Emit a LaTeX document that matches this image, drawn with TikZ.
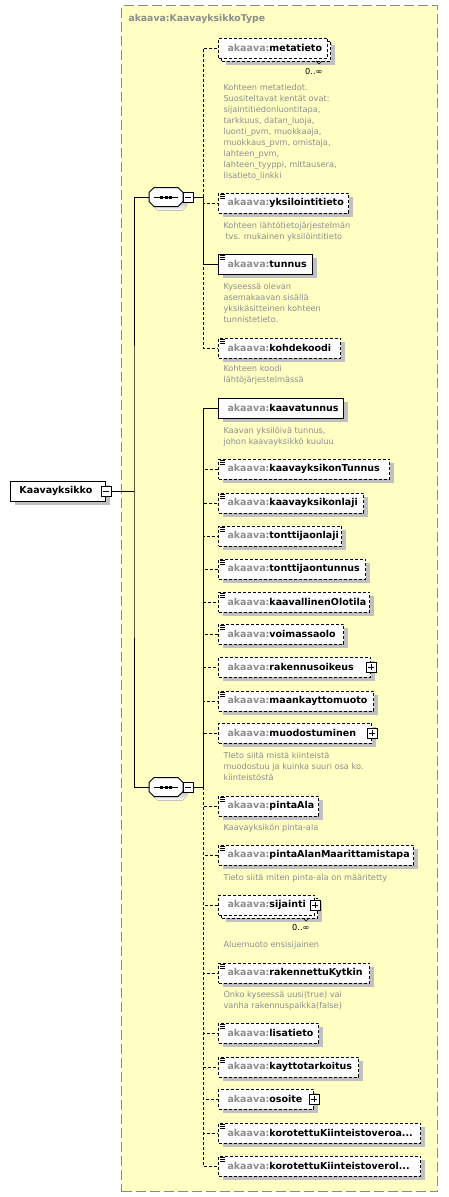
\documentclass[tikz,border=0pt]{standalone}
\usepackage{fontspec}
\setmainfont{DejaVu Sans}
\usetikzlibrary{shadows}
\definecolor{typefill}{HTML}{FFFFC4}
\definecolor{typeline}{HTML}{8A8A8A}
\definecolor{nsgray}{HTML}{8C8C8C}
\definecolor{docgray}{HTML}{8E8E8E}
\definecolor{shade}{HTML}{C0C0C0}
\newcommand{\akv}[1]{{\color{nsgray}akaava:}#1}
\begin{document}
\begin{tikzpicture}[x=1pt, y=-1pt, line width=1pt,
        typebox/.style={draw=typeline, fill=typefill, dash pattern=on 10pt off 4pt, anchor=north west,
            minimum width=316pt, minimum height=1186pt},
        elem/.style={draw, fill=white, anchor=west, minimum height=20pt, inner xsep=9pt, inner ysep=0pt, align=left,
            font=\fontsize{9.5}{11}\selectfont\bfseries,
            drop shadow={shadow xshift=4pt, shadow yshift=-4pt, fill=shade, opacity=1}},
        opt/.style={dash pattern=on 3pt off 2pt},
        multi/.style={drop shadow={shadow xshift=7pt, shadow yshift=-7pt, fill=shade, opacity=1},
            copy shadow={shadow xshift=3pt, shadow yshift=-3pt, draw, fill=white, dash pattern=on 3pt off 2pt}},
        doc/.style={anchor=north west, inner sep=0pt, align=left, text=docgray, font=\fontsize{8.2}{11}\selectfont},
        occ/.style={anchor=east, inner sep=0pt, font=\fontsize{8.2}{10}\selectfont},
        seq/.style={minimum width=34pt, minimum height=19pt, inner sep=0pt},
        plusbox/.style={draw, fill=white, minimum size=10pt, inner sep=0pt, path picture={
            \draw[line width=0.8pt] ([xshift=2pt]path picture bounding box.west) -- ([xshift=-2pt]path picture bounding box.east);
            \draw[line width=0.8pt] ([yshift=-2pt]path picture bounding box.north) -- ([yshift=2pt]path picture bounding box.south);}},
        minusbox/.style={draw, fill=white, minimum size=10pt, inner sep=0pt, path picture={
            \draw[line width=0.8pt] ([xshift=2pt]path picture bounding box.west) -- ([xshift=-2pt]path picture bounding box.east);}},
    ]
    \useasboundingbox (0,0) rectangle (448,1197);
    \node[typebox] (ktype) at (121,5) {};
    \node[anchor=west, inner sep=0pt, text=nsgray, font=\fontsize{9.3}{11}\selectfont\bfseries] (ktitle) at (128,19) {akaava:KaavayksikkoType};

    \node[elem, text width=77pt] (root) at (10,491) {Kaavayksikko};

    % sequence compositors
    \node[seq] (seqA) at (166,197) {};
    \node[seq] (seqB) at (166,787) {};
    \foreach \s in {seqA,seqB}{
        \fill[shade] ([shift={(4,4)}]\s.center) +(-12,-9.5) -- +(12,-9.5) -- +(17,-4.5) -- +(17,4.5) -- +(12,9.5) -- +(-12,9.5) -- +(-17,4.5) -- +(-17,-4.5) -- cycle;
        \filldraw[fill=white] (\s.center) +(-12,-9.5) -- +(12,-9.5) -- +(17,-4.5) -- +(17,4.5) -- +(12,9.5) -- +(-12,9.5) -- +(-17,4.5) -- +(-17,-4.5) -- cycle;
        \draw (\s.center) +(-12,0) -- +(12,0);
        \foreach \d in {-4.5,0,4.5}
            \fill ([xshift=\d pt]\s.center) +(-1.5,-1.5) rectangle +(1.5,1.5);
    }
    \node[minusbox] (seqAm) at (188,197) {};
    \node[minusbox] (seqBm) at (188,787) {};
    \node[minusbox] (rootm) at (root.east) {};

    % first sequence
    \node[elem, opt, multi, text width=91pt] (meta) at (218,48) {\akv{metatieto}};
    \node[elem, opt, text width=112pt] (yksilo) at (218,203) {\akv{yksilointitieto}};
    \node[elem, text width=76pt] (tunnus) at (218,264) {\akv{tunnus}};
    \node[elem, opt, text width=104pt] (kohde) at (218,348) {\akv{kohdekoodi}};

    % second sequence
    \node[elem, text width=107pt] (ktunnus) at (218,408) {\akv{kaavatunnus}};
    \node[elem, opt, text width=153pt] (kytunnus) at (218,469) {\akv{kaavayksikonTunnus}};
    \node[elem, opt, text width=127pt] (kylaji) at (218,503) {\akv{kaavayksikonlaji}};
    \node[elem, opt, text width=105pt] (tjlaji) at (218,536) {\akv{tonttijaonlaji}};
    \node[elem, opt, text width=129pt] (tjtunnus) at (218,569) {\akv{tonttijaontunnus}};
    \node[elem, opt, text width=133pt] (olotila) at (218,602) {\akv{kaavallinenOlotila}};
    \node[elem, opt, text width=107pt] (voimassa) at (218,634) {\akv{voimassaolo}};
    \node[elem, opt, text width=134pt] (rakoik) at (218,667) {\akv{rakennusoikeus}};
    \node[elem, opt, text width=137pt] (maank) at (218,701) {\akv{maankayttomuoto}};
    \node[elem, opt, text width=135pt] (muodos) at (218,733) {\akv{muodostuminen}};
    \node[elem, opt, text width=82pt] (pala) at (218,806) {\akv{pintaAla}};
    \node[elem, opt, text width=177pt] (pamaar) at (218,855) {\akv{pintaAlanMaarittamistapa}};
    \node[elem, opt, multi, text width=78pt] (sijainti) at (218,905) {\akv{sijainti}};
    \node[elem, opt, text width=133pt] (rakkyt) at (218,973) {\akv{rakennettuKytkin}};
    \node[elem, opt, text width=82pt] (lisa) at (218,1033) {\akv{lisatieto}};
    \node[elem, opt, text width=122pt] (kaytto) at (218,1067) {\akv{kayttotarkoitus}};
    \node[elem, opt, text width=77pt] (osoite) at (218,1099) {\akv{osoite}};
    \node[elem, opt, text width=184pt] (korA) at (218,1133) {\akv{korotettuKiinteistoveroa...}};
    \node[elem, opt, text width=184pt] (korB) at (218,1166) {\akv{korotettuKiinteistoverol...}};

    \foreach \n in {yksilo,tunnus,kohde,kytunnus,kylaji,tjlaji,tjtunnus,olotila,voimassa,maank,pala,pamaar,rakkyt,lisa,kaytto,korA,korB}
        \foreach \k in {1.5,3.5,5.5}
            \draw[line width=0.8pt] ([shift={(2,\k)}]\n.north west) -- +(5,0);
    \foreach \n in {rakoik,muodos,sijainti,osoite}
        \node[plusbox] (\n-plus) at (\n.east) {};

    \node[occ] (metaocc) at ([shift={(-5,24)}]meta.east) {0..∞};
    \node[occ] (sijocc) at ([shift={(-5,23)}]sijainti.east) {0..∞};
    \draw[line width=0.6pt] ([shift={(-12,13)}]meta.east) -- ++(3,3) -- ++(3,-3);
    \draw[line width=0.6pt] ([shift={(-12,13)}]sijainti.east) -- ++(3,3) -- ++(3,-3);

    \node[doc] (metadoc) at (223,83.5) {Kohteen metatiedot.\\Suositeltavat kentät ovat:\\sijaintitiedonluontitapa,\\tarkkuus, datan\_luoja,\\luonti\_pvm, muokkaaja,\\muokkaus\_pvm, omistaja,\\lahteen\_pvm,\\lahteen\_tyyppi, mittausera,\\lisatieto\_linkki};
    \node[doc] (yksdoc) at (223,221.5) {Kohteen lähtötietojärjestelmän\\\hspace*{2pt}tvs. mukainen yksilöintitieto};
    \node[doc] (tunndoc) at (223,282.5) {Kyseessä olevan\\asemakaavan sisällä\\yksikäsitteinen kohteen\\tunnistetieto.};
    \node[doc] (kohdoc) at (223,364.5) {Kohteen koodi\\lähtöjärjestelmässä};
    \node[doc] (ktdoc) at (223,426.5) {Kaavan yksilöivä tunnus,\\johon kaavayksikkö kuuluu};
    \node[doc] (muodoc) at (223,751.5) {TIeto siitä mistä kiinteistä\\muodostuu ja kuinka suuri osa ko.\\kiinteistöstä};
    \node[doc] (paladoc) at (223,823.5) {Kaavayksikön pinta-ala};
    \node[doc] (pamdoc) at (223,873.5) {Tieto siitä miten pinta-ala on määritetty};
    \node[doc] (sijdoc) at (223,940.5) {Aluemuoto ensisijainen};
    \node[doc] (rakdoc) at (223,990.5) {Onko kyseessä uusi(true) vai\\vanha rakennuspaikka(false)};

    % connectors
    \coordinate (jR) at (134,491);
    \coordinate (jA) at (203,197);
    \coordinate (jB) at (203,787);
    \draw (rootm.east) -- (jR);
    \draw (seqA.west) -| (jR) |- (seqB.west);
    \draw (seqAm.east) -- (jA);
    \draw (seqBm.east) -- (jB);
    \foreach \n in {meta,yksilo,kohde}
        \draw[opt] (jA) |- (\n.west);
    \draw (jA) |- (tunnus.west);
    \foreach \n in {kytunnus,kylaji,tjlaji,tjtunnus,olotila,voimassa,rakoik,maank,muodos,pala,pamaar,sijainti,rakkyt,lisa,kaytto,osoite,korA,korB}
        \draw[opt] (jB) |- (\n.west);
    \draw (jB) |- (ktunnus.west);
\end{tikzpicture}
\end{document}
